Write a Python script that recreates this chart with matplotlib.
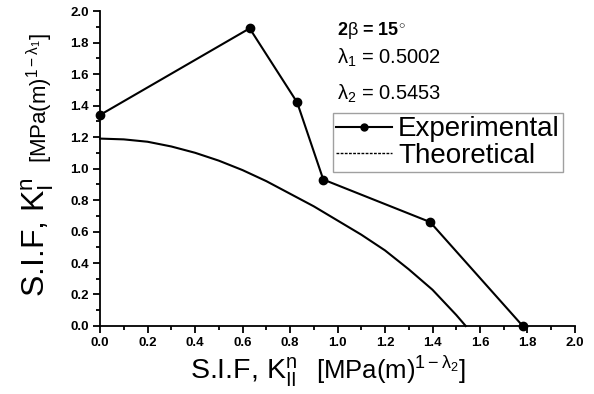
import matplotlib
matplotlib.use("Agg")
import matplotlib.pyplot as plt
from matplotlib.lines import Line2D
from matplotlib.ticker import MultipleLocator

plt.rcParams['font.family'] = ['Liberation Sans', 'DejaVu Sans']
plt.rcParams['mathtext.fontset'] = 'custom'
plt.rcParams['mathtext.rm'] = 'Liberation Sans'
plt.rcParams['mathtext.it'] = 'Liberation Sans'

# experimental points
exp_k2 = [0.0, 0.63, 0.83, 0.94, 1.39, 1.78]
exp_k1 = [1.34, 1.89, 1.42, 0.93, 0.66, 0.0]

# theoretical curve
theo_k2 = [0.0, 0.1, 0.2, 0.3, 0.4, 0.5, 0.6, 0.7, 0.8, 0.9, 1.0, 1.1, 1.2, 1.3, 1.4, 1.5, 1.54]
theo_k1 = [1.19, 1.185, 1.17, 1.14, 1.10, 1.05, 0.99, 0.92, 0.84, 0.76, 0.67, 0.58, 0.48, 0.36, 0.23, 0.07, 0.0]

fig = plt.figure(figsize=(5.94, 3.94), dpi=100)
ax = fig.add_axes([0.1684, 0.1726, 0.7996, 0.7994])

ax.plot(theo_k2, theo_k1, color='black', lw=1.5, clip_on=False)
ax.plot(exp_k2, exp_k1, color='black', lw=1.5, marker='o', ms=6, clip_on=False)

ax.set_xlim(0, 2.0)
ax.set_ylim(0, 2.0)
ax.xaxis.set_major_locator(MultipleLocator(0.2))
ax.xaxis.set_minor_locator(MultipleLocator(0.1))
ax.yaxis.set_major_locator(MultipleLocator(0.2))
ax.yaxis.set_minor_locator(MultipleLocator(0.1))
ax.spines['top'].set_visible(False)
ax.spines['right'].set_visible(False)
for s in ['left', 'bottom']:
    ax.spines[s].set_linewidth(1.3)
ax.tick_params(which='major', direction='out', length=5, width=1.3, labelsize=9.5, pad=3)
ax.tick_params(which='minor', direction='out', length=3, width=1.3)
for lab in ax.get_xticklabels() + ax.get_yticklabels():
    lab.set_fontweight('bold')

# axis labels: big part + smaller unit part
fig.text(0.32, 0.038, r'S.I.F, K$_{\mathregular{II}}^{\mathregular{n}}$', fontsize=20.5,
         ha='left', va='baseline')
fig.text(0.532, 0.038, r'[MPa(m)$^{1-\lambda_2}$]', fontsize=18.5, ha='left', va='baseline')
fig.text(0.076, 0.246, r'S.I.F, K$_{\mathregular{I}}^{\mathregular{n}}$', fontsize=23,
         rotation=90, rotation_mode='anchor', ha='left', va='baseline')
fig.text(0.079, 0.586, r'[MPa(m)$^{1-\lambda_1}$]', fontsize=16, rotation=90,
         rotation_mode='anchor', ha='left', va='baseline')

ax.text(0.499, 0.924, r'2$\beta$ = 15$^{\circ}$', transform=ax.transAxes,
        fontsize=13, fontweight='bold', va='baseline')
ax.text(0.499, 0.832, r'$\lambda_1$ = 0.5002', transform=ax.transAxes, fontsize=14.5,
        va='baseline')
ax.text(0.499, 0.717, r'$\lambda_2$ = 0.5453', transform=ax.transAxes, fontsize=14.5,
        va='baseline')

handles = [Line2D([], [], color='black', lw=1.5, marker='o', ms=5),
           Line2D([], [], color='black', lw=1.0, ls=(0, (2, 1)))]
leg = ax.legend(handles, ['Experimental', 'Theoretical'], loc='upper left',
                bbox_to_anchor=(0.4905, 0.676), fontsize=20, frameon=True,
                fancybox=False, handlelength=2.0, handletextpad=0.22,
                borderpad=0.12, labelspacing=0.02, borderaxespad=0)
leg.get_frame().set_edgecolor('#888888')
leg.get_frame().set_linewidth(1.0)

fig.savefig('out.png', dpi=100)
